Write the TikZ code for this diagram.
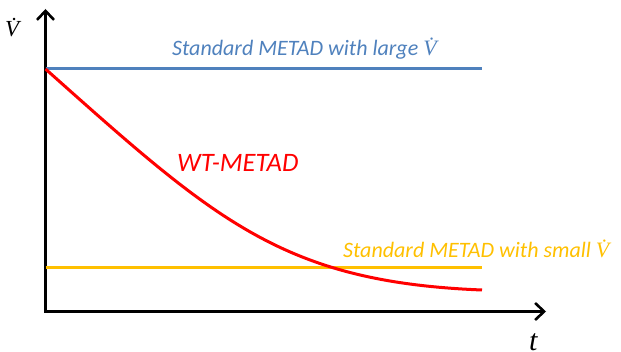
\documentclass[tikz,border=0pt]{standalone}
\usepackage{fontspec}
\setmainfont{Carlito}
\newfontfamily\serifit{Liberation Serif}
\usetikzlibrary{arrows.meta}
\definecolor{myblue}{HTML}{4F81BD}
\definecolor{myorange}{HTML}{FFC000}
\definecolor{myred}{HTML}{FF0000}
\newcommand{\Vdot}{{\serifit\itshape\.{V}}}
\tikzset{
  axis/.style={line width=2.8pt, black, {Straight Barb[length=9pt,width=17pt,line width=2.6pt]}-{Straight Barb[length=9pt,width=17pt,line width=2.6pt]}},
  level/.style={line width=3pt},
  lbl/.style={font=\fontsize{22}{26}\selectfont\itshape, anchor=base west, inner sep=0pt},
}
\begin{document}
\begin{tikzpicture}[x=1pt,y=-1pt]
\useasboundingbox (0,0) rectangle (621,352);
\clip (0,0) rectangle (621,352);
\coordinate (ytip) at (45.5,9);
\coordinate (origin) at (45.5,311.5);
\coordinate (xtip) at (546,311.5);
\coordinate (bstart) at (45.5,69);
\coordinate (bend) at (482,69);
\coordinate (ostart) at (45.5,268);
\coordinate (oend) at (482,268);
\coordinate (rend) at (482,290);
% axes
\draw[axis] (ytip) -- (origin) -- (xtip);
% levels
\draw[level, myblue] (bstart) -- (bend);
\draw[level, myorange] (ostart) -- (oend);
\draw[myred, line width=3pt] (bstart) .. controls (215,220) and (282,282) .. (rend);
% labels
\node[lbl, text=myblue] (blbl) at (172,56) {Standard METAD with large \Vdot};
\node[lbl, text=myorange] (olbl) at (343,258) {Standard METAD with small \Vdot};
\node[lbl, text=myred, font=\fontsize{26.6}{30}\selectfont\itshape] (rlbl) at (177,172) {WT-METAD};
\node[anchor=base west, inner sep=0pt, font=\fontsize{23}{26}\selectfont] (vlbl) at (5,37) {\Vdot};
\node[anchor=base west, inner sep=0pt, font=\fontsize{30}{34}\selectfont] (tlbl) at (529,351) {\serifit\itshape t};
\end{tikzpicture}
\end{document}
